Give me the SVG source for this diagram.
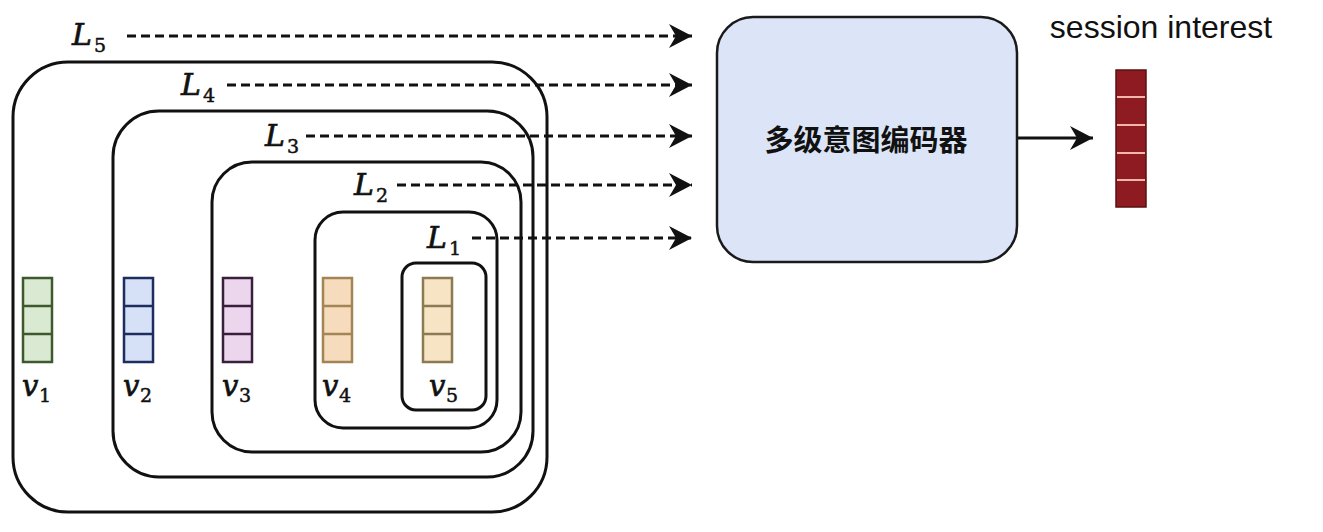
<svg xmlns="http://www.w3.org/2000/svg" width="1323" height="532" viewBox="0 0 1323 532">
<style>
.frame{fill:none;stroke:#111;stroke-width:3}
.dash{fill:none;stroke:#111;stroke-width:3;stroke-dasharray:9 5}
.solid{fill:none;stroke:#111;stroke-width:3}
.math{font-family:"DejaVu Serif","Liberation Serif",serif;font-style:italic;font-size:30px;fill:#111;stroke:#111;stroke-width:0.7}
.mv{font-family:"DejaVu Serif","Liberation Serif",serif;font-style:italic;font-size:29px;fill:#111;stroke:#111;stroke-width:0.7}
.sub{font-family:"DejaVu Serif","Liberation Serif",serif;font-size:19px;fill:#111;stroke:#111;stroke-width:0.5}
.cell{stroke-width:2.5}
.cjk{font-family:"Noto Sans CJK SC","Noto Sans",sans-serif;font-size:29px;font-weight:bold;fill:#111}
.sans{font-family:"Liberation Sans",Arial,sans-serif;font-size:32px;fill:#111}
</style>
<defs>
<marker id="ah" markerUnits="userSpaceOnUse" markerWidth="28" markerHeight="28" refX="24" refY="13" orient="auto">
<path d="M1,1 L24,13 L1,25 L8,13 Z" fill="#111"/>
</marker>
</defs>
<rect width="1323" height="532" fill="#ffffff"/>

<g id="L5">
<rect class="frame" x="13" y="62" width="534" height="450" rx="55" ry="55"/>
<text class="math" x="72" y="45">L</text><text class="sub" x="94" y="52">5</text>
</g>
<g id="L4">
<rect class="frame" x="113" y="111" width="420" height="366" rx="46" ry="46"/>
<text class="math" x="181" y="95">L</text><text class="sub" x="203" y="102">4</text>
</g>
<g id="L3">
<rect class="frame" x="212" y="162" width="309" height="290" rx="40" ry="40"/>
<text class="math" x="265" y="146">L</text><text class="sub" x="287" y="153">3</text>
</g>
<g id="L2">
<rect class="frame" x="315" y="212" width="182" height="216" rx="28" ry="28"/>
<text class="math" x="354" y="195">L</text><text class="sub" x="376" y="202">2</text>
</g>
<g id="L1">
<rect class="frame" x="402" y="263" width="84" height="147" rx="14" ry="14"/>
<text class="math" x="427" y="248">L</text><text class="sub" x="449" y="255">1</text>
</g>

<g id="v1">
<rect class="cell" x="23" y="278" width="29" height="84" fill="#d9e9d2" stroke="#3e5a2c"/>
<line class="cell" x1="23" y1="306" x2="52" y2="306" stroke="#3e5a2c"/>
<line class="cell" x1="23" y1="334" x2="52" y2="334" stroke="#3e5a2c"/>
<text class="mv" x="22" y="396">v</text><text class="sub" x="39" y="402">1</text>
</g>
<g id="v2">
<rect class="cell" x="124" y="278" width="29" height="84" fill="#d6e1f7" stroke="#1f2d5e"/>
<line class="cell" x1="124" y1="306" x2="153" y2="306" stroke="#1f2d5e"/>
<line class="cell" x1="124" y1="334" x2="153" y2="334" stroke="#1f2d5e"/>
<text class="mv" x="123" y="396">v</text><text class="sub" x="140" y="402">2</text>
</g>
<g id="v3">
<rect class="cell" x="223" y="278" width="29" height="84" fill="#ecd6ee" stroke="#3a1f3d"/>
<line class="cell" x1="223" y1="306" x2="252" y2="306" stroke="#3a1f3d"/>
<line class="cell" x1="223" y1="334" x2="252" y2="334" stroke="#3a1f3d"/>
<text class="mv" x="222" y="396">v</text><text class="sub" x="239" y="402">3</text>
</g>
<g id="v4">
<rect class="cell" x="323" y="278" width="29" height="84" fill="#f6dbbd" stroke="#a38454"/>
<line class="cell" x1="323" y1="306" x2="352" y2="306" stroke="#a38454"/>
<line class="cell" x1="323" y1="334" x2="352" y2="334" stroke="#a38454"/>
<text class="mv" x="322" y="396">v</text><text class="sub" x="339" y="402">4</text>
</g>
<g id="v5">
<rect class="cell" x="423" y="278" width="29" height="84" fill="#f7e4c4" stroke="#8c7a52"/>
<line class="cell" x1="423" y1="306" x2="452" y2="306" stroke="#8c7a52"/>
<line class="cell" x1="423" y1="334" x2="452" y2="334" stroke="#8c7a52"/>
<text class="mv" x="429" y="396">v</text><text class="sub" x="446" y="402">5</text>
</g>

<g id="encoder">
<rect x="717" y="17" width="300" height="245" rx="36" ry="36" fill="#dbe5f7" stroke="#1a1a1a" stroke-width="2.5"/>
<text class="cjk" x="866" y="151" text-anchor="middle">多级意图编码器</text>
</g>

<g id="session-interest">
<text class="sans" x="1161" y="38" text-anchor="middle">session interest</text>
<rect x="1116" y="70" width="30" height="137" fill="#8e1b21" stroke="#5a1212" stroke-width="1.5"/>
<g stroke="#f2b7a8" stroke-width="2">
<line x1="1117" y1="97" x2="1145" y2="97"/>
<line x1="1117" y1="125" x2="1145" y2="125"/>
<line x1="1117" y1="153" x2="1145" y2="153"/>
<line x1="1117" y1="180" x2="1145" y2="180"/>
</g>
</g>

<g id="connectors">
<line class="dash" x1="127" y1="36" x2="692" y2="36" marker-end="url(#ah)"/>
<line class="dash" x1="227" y1="85" x2="692" y2="85" marker-end="url(#ah)"/>
<line class="dash" x1="306" y1="136" x2="692" y2="136" marker-end="url(#ah)"/>
<line class="dash" x1="397" y1="185" x2="692" y2="185" marker-end="url(#ah)"/>
<line class="dash" x1="472" y1="238" x2="692" y2="238" marker-end="url(#ah)"/>
<line class="solid" x1="1018" y1="138" x2="1093" y2="138" marker-end="url(#ah)"/>
</g>
</svg>
